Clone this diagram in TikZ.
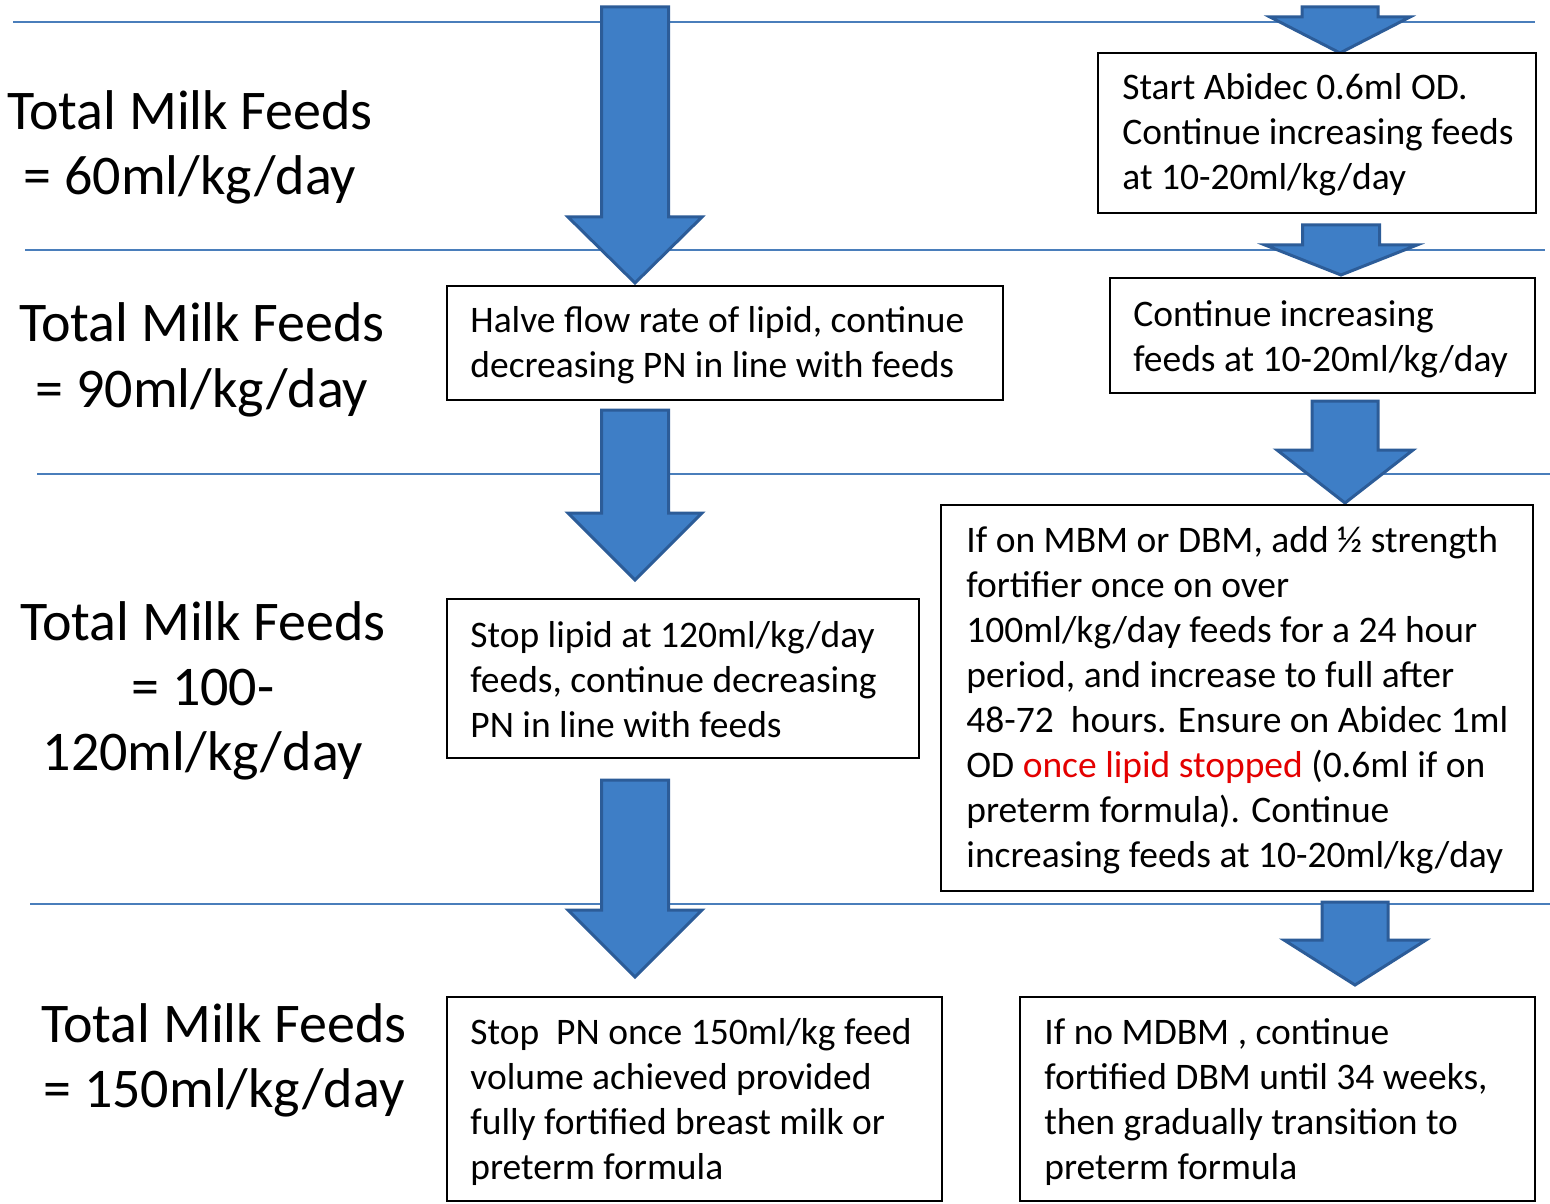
\documentclass[tikz,border=0pt]{standalone}
\usepackage{fontspec}
\setmainfont{Carlito}
\definecolor{lineblue}{RGB}{74,126,187}
\definecolor{arrowfill}{RGB}{62,126,198}
\definecolor{arrowline}{RGB}{44,92,152}
\definecolor{txtred}{RGB}{228,0,0}
\newcommand{\ctrlines}[1]{\vtop{\halign{\hfil##\hfil\cr#1\crcr}}}
\newcommand{\lftlines}[1]{\vtop{\halign{##\hfil\cr#1\crcr}}}
% block arrow: centre x, top y, head-base y, tip y, shaft half width, head half width
\newcommand{\blockarrow}[6]{%
  \draw[barrow] (#1-#5,#2) -- (#1+#5,#2) -- (#1+#5,#3) -- (#1+#6,#3) -- (#1,#4)
     -- (#1-#6,#3) -- (#1-#5,#3) -- cycle;}
\begin{document}
\begin{tikzpicture}[x=0.5pt,y=-0.5pt,
  sepline/.style={draw=lineblue, line width=1pt},
  barrow/.style={fill=arrowfill, draw=arrowline, line width=1.5pt, line join=miter},
  box/.style={draw=black, line width=1.1pt, fill=white, inner sep=0pt, outer sep=0pt},
  boxtext/.style={inner sep=0pt, anchor=base west, font=\fontsize{18.75}{22.5}\selectfont},
  level/.style={inner sep=0pt, anchor=base, font=\fontsize{28}{32.5}\selectfont}]
\fill[white] (0,0) rectangle (1550,1203);
\useasboundingbox (0,0) rectangle (1550,1203);

% separator lines
\draw[sepline] (13,22) -- (1535,22);
\draw[sepline] (25,250) -- (1545,250);
\draw[sepline] (37,474) -- (1550,474);
\draw[sepline] (30,904) -- (1550,904);

% level labels
\node[level] (lv1) at (190,130) {\ctrlines{Total Milk Feeds\cr = 60ml/kg/day}};
\node[level] (lv2) at (202,342) {\ctrlines{Total Milk Feeds\cr = 90ml/kg/day}};
\node[level] (lv3) at (203,640) {\ctrlines{Total Milk Feeds\cr = 100-\cr 120ml/kg/day}};
\node[level] (lv4) at (224,1042) {\ctrlines{Total Milk Feeds\cr = 150ml/kg/day}};

% block arrows
\blockarrow{635}{7}{217}{283}{33.5}{67}
\blockarrow{635}{410}{513}{580}{33.5}{67}
\blockarrow{635}{780}{910}{977}{33.5}{67}
\blockarrow{1340}{7}{17}{53}{38}{70}
\blockarrow{1341}{225}{245}{275}{38.5}{76}
\blockarrow{1345}{401}{450}{503}{33}{68}
\blockarrow{1355}{902}{940}{985}{33}{71}

% boxes
\node[box, minimum width=219pt, minimum height=80pt] (r1) at (1317,133) {};
\node[box, minimum width=212.5pt, minimum height=57.5pt] (r2) at (1322.5,335.5) {};
\node[box, minimum width=278pt, minimum height=57pt] (m1) at (725,343) {};
\node[box, minimum width=236pt, minimum height=79.5pt] (m2) at (683,678.5) {};
\node[box, minimum width=296pt, minimum height=193pt] (r3) at (1237,698) {};
\node[box, minimum width=247.5pt, minimum height=102pt] (m3) at (694.5,1099) {};
\node[box, minimum width=257.5pt, minimum height=102pt] (r4) at (1277.5,1099) {};

% box texts
\node[boxtext] (r1t) at (1122,100) {\lftlines{Start Abidec 0.6ml OD.\cr Continue increasing feeds\cr at 10-20ml/kg/day}};
\node[boxtext] (r2t) at (1133,327) {\lftlines{Continue increasing\cr feeds at 10-20ml/kg/day}};
\node[boxtext] (m1t) at (470,332) {\lftlines{Halve flow rate of lipid, continue\cr decreasing PN in line with feeds}};
\node[boxtext] (m2t) at (470,647) {\lftlines{Stop lipid at 120ml/kg/day\cr feeds, continue decreasing\cr PN in line with feeds}};
\node[boxtext] (r3t) at (966,552) {\lftlines{If on MBM or DBM, add ½ strength\cr fortifier once on over\cr 100ml/kg/day feeds for a 24 hour\cr period, and increase to full after\cr 48-72 \ hours. Ensure on Abidec 1ml\cr OD \textcolor{txtred}{once lipid stopped} (0.6ml if on\cr preterm formula). Continue\cr increasing feeds at 10-20ml/kg/day}};
\node[boxtext] (m3t) at (470,1044) {\lftlines{Stop \ PN once 150ml/kg feed\cr volume achieved provided\cr fully fortified breast milk or\cr preterm formula}};
\node[boxtext] (r4t) at (1044,1044) {\lftlines{If no MDBM , continue\cr fortified DBM until 34 weeks,\cr then gradually transition to\cr preterm formula}};
\end{tikzpicture}
\end{document}
